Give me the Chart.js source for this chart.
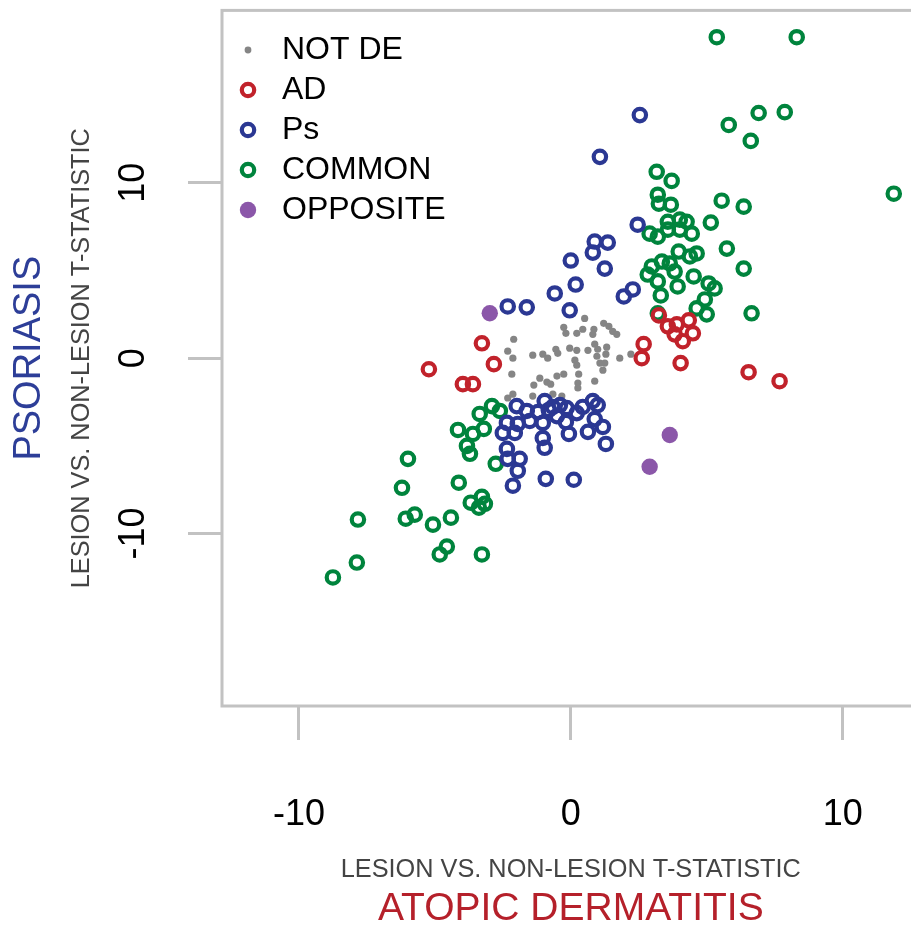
<!DOCTYPE html>
<html>
<head>
<meta charset="utf-8">
<script src="https://cdn.jsdelivr.net/npm/chart.js@4.4.0/dist/chart.umd.min.js"></script>
<style>
  html, body { margin: 0; padding: 0; overflow: hidden; background: #fff; }
  #wrap { position: relative; width: 930px; height: 931px; }
</style>
</head>
<body>
<div id="wrap"><canvas id="chart"></canvas></div>
<script>
// groups, in legend order
const groupNames = ['NOT DE', 'AD', 'Ps', 'COMMON', 'OPPOSITE'];

const notDePoints = [
  [0.51, 2.27], [-0.26, 1.76], [-0.18, 1.42], [0.22, 1.42], [0.44, 1.65], [0.85, 1.65],
  [0.81, 1.36], [1.21, 1.99], [1.40, 1.82], [1.54, 1.53], [1.69, 1.36], [-2.10, 1.08],
  [-2.32, 0.40], [-2.13, 0.00], [-1.40, 0.17], [-1.03, 0.23], [-0.85, 0.00], [-0.55, 0.51],
  [-0.48, 0.28], [-0.04, 0.57], [0.22, 0.45], [0.63, 0.45], [0.88, 0.80], [0.99, 0.51],
  [1.32, 0.63], [0.15, -0.11], [0.22, -0.40], [0.96, 0.11], [1.07, -0.28], [1.25, -0.28],
  [1.29, 0.23], [1.80, 0.00], [2.21, 0.23], [1.18, -0.68], [-2.17, -0.91], [0.29, -0.91],
  [-1.14, -1.14], [-0.88, -1.36], [-0.74, -1.48], [-0.51, -1.02], [-0.26, -0.91], [-1.36, -1.53],
  [0.26, -1.42], [0.26, -1.70], [0.88, -1.31], [-1.40, -2.16], [-0.66, -2.05], [-0.33, -2.16],
  [-2.32, -2.27], [-2.13, -2.05]
];

const adPoints = [
  [-5.22, -0.63], [-3.27, 0.85], [-2.83, -0.34], [-3.97, -1.48], [-3.60, -1.48],
  [2.68, 0.80], [2.61, 0.00], [4.04, -0.28], [3.24, 2.44], [3.57, 1.82], [3.90, 1.93],
  [4.34, 2.16], [4.49, 1.42], [3.82, 1.36], [4.12, 0.97], [6.54, -0.80], [7.68, -1.31]
];

const psPoints = [
  [2.54, 13.86], [1.07, 11.48], [2.46, 7.61], [0.88, 6.65], [1.36, 6.59], [0.81, 6.02],
  [0.00, 5.57], [1.25, 5.11], [0.18, 4.20], [-0.59, 3.69], [1.95, 3.52], [2.28, 3.92],
  [-2.32, 2.95], [-1.62, 2.90], [-0.04, 2.73],
  [-1.99, -2.73], [-1.62, -3.01], [-2.35, -3.69], [-1.95, -3.75], [-1.51, -3.58], [-1.21, -3.07],
  [-0.96, -2.44], [-0.81, -2.95], [-0.66, -2.78], [-0.40, -2.67], [-0.15, -2.84], [-1.03, -3.69],
  [-0.51, -3.30], [-0.18, -3.64], [0.22, -3.13], [0.44, -2.78], [0.81, -2.44], [0.99, -2.67],
  [0.88, -3.47], [1.18, -3.92], [0.63, -4.20], [-0.07, -4.32], [-2.50, -4.26], [-2.06, -4.26],
  [-1.03, -4.55], [-0.96, -5.11], [1.29, -4.89], [-2.35, -5.17], [-1.88, -5.74], [-2.32, -5.74],
  [-1.95, -6.42], [-2.13, -7.27], [-0.92, -6.88], [0.11, -6.93]
];

const commonPoints = [
  [5.37, 18.30], [8.31, 18.30], [7.87, 14.03], [6.91, 13.98], [5.81, 13.30], [6.62, 12.39],
  [3.16, 10.63], [3.71, 10.11], [11.88, 9.38], [3.20, 9.32], [3.24, 8.81], [3.68, 8.75],
  [5.55, 8.98], [6.36, 8.64], [5.15, 7.73], [2.90, 7.10], [3.20, 6.93], [3.57, 7.78],
  [4.01, 7.90], [4.26, 7.78], [3.57, 7.33], [4.01, 7.33], [4.45, 7.10], [5.74, 6.25],
  [3.97, 6.08], [4.38, 5.80], [4.63, 5.97], [2.98, 5.23], [3.35, 5.51], [3.64, 5.40],
  [2.83, 4.77], [3.20, 4.38], [3.82, 4.94], [3.93, 4.09], [4.52, 4.66], [5.07, 4.26],
  [5.29, 3.98], [3.31, 3.58], [4.93, 3.35], [4.63, 2.84], [5.00, 2.50], [3.20, 2.56],
  [6.36, 5.11], [6.65, 2.56],
  [-2.90, -2.73], [-2.61, -3.01], [-3.35, -3.18], [-4.15, -4.09], [-3.60, -4.32], [-3.20, -4.03],
  [-3.82, -5.00], [-3.71, -5.45], [-2.76, -6.02], [-5.99, -5.74], [-6.21, -7.39], [-4.12, -7.10],
  [-7.83, -9.20], [-6.07, -9.15], [-5.74, -8.92], [-5.07, -9.49], [-4.41, -9.09], [-3.68, -8.24],
  [-3.27, -7.90], [-3.16, -8.30], [-3.38, -8.52], [-4.56, -10.74], [-4.82, -11.19], [-3.27, -11.19],
  [-7.87, -11.65], [-8.75, -12.50]
];

const oppositePoints = [[-2.98, 2.56], [3.64, -4.38], [2.90, -6.19]];

const xTicks = [-10, 0, 10];
const yTicks = [-10, 0, 10];

const axisTitle = 'LESION VS. NON-LESION T-STATISTIC';
const xDisease = 'ATOPIC DERMATITIS';
const yDisease = 'PSORIASIS';

const frameColor = '#c2c2c2';
const colors = {
  notDe: '#858585',
  ad: '#c1222b',
  ps: '#2b3893',
  common: '#00843d',
  opposite: '#8b57a9'
};

Chart.defaults.font.family = "'Liberation Sans', Arial, sans-serif";

const toXY = pts => pts.map(p => ({x: p[0], y: p[1]}));

const ringR = 6.2, ringW = 4.2;

function ringStyle(color, order, data, name) {
  return {
    label: name, data: toXY(data), order: order,
    pointRadius: ringR, pointBorderWidth: ringW,
    borderColor: color, backgroundColor: 'rgba(0,0,0,0)',
    pointBorderColor: color, pointBackgroundColor: 'rgba(0,0,0,0)'
  };
}

const datasets = [
  {label: groupNames[0], data: toXY(notDePoints), order: 5, pointRadius: 3.6, pointBorderWidth: 0,
   backgroundColor: colors.notDe, borderColor: colors.notDe},
  ringStyle(colors.ad, 2, adPoints, groupNames[1]),
  ringStyle(colors.ps, 3, psPoints, groupNames[2]),
  ringStyle(colors.common, 4, commonPoints, groupNames[3]),
  {label: groupNames[4], data: toXY(oppositePoints), order: 1, pointRadius: 8.2, pointBorderWidth: 0,
   backgroundColor: colors.opposite, borderColor: colors.opposite}
];

// little legend markers, one per group
function makeIcon(r, fill, stroke, lw) {
  const c = document.createElement('canvas');
  c.width = 22; c.height = 22;
  const g = c.getContext('2d');
  g.beginPath();
  g.arc(11, 11, r, 0, Math.PI * 2);
  if (fill) { g.fillStyle = fill; g.fill(); }
  if (stroke) { g.strokeStyle = stroke; g.lineWidth = lw; g.stroke(); }
  return c;
}
const icons = [
  makeIcon(3.4, colors.notDe),
  makeIcon(ringR, null, colors.ad, ringW),
  makeIcon(ringR, null, colors.ps, ringW),
  makeIcon(ringR, null, colors.common, ringW),
  makeIcon(8.2, colors.opposite)
];

const framePlugin = {
  id: 'frame',
  beforeDatasetsDraw(chart) {
    const {ctx, chartArea: a} = chart;
    ctx.save();
    ctx.strokeStyle = frameColor;
    ctx.lineWidth = 3;
    ctx.strokeRect(a.left, a.top, a.right - a.left, a.bottom - a.top);
    ctx.restore();
  }
};

new Chart(document.getElementById('chart'), {
  type: 'scatter',
  data: {datasets: datasets},
  plugins: [framePlugin],
  options: {
    responsive: true,
    maintainAspectRatio: false,
    animation: false,
    events: [],
    layout: {padding: {top: 8, right: 10, left: 0, bottom: 0}},
    scales: {
      x: {
        type: 'linear', position: 'bottom', min: -12.83, max: 12.83,
        border: {display: false},
        grid: {drawOnChartArea: false, tickLength: 34, tickWidth: 3, tickColor: frameColor},
        ticks: {font: {size: 36}, color: '#000', padding: 53},
        afterBuildTicks: s => { s.ticks = xTicks.map(v => ({value: v})); },
        afterFit: s => { s.height = 182.1; s.paddingLeft = 0; s.paddingRight = 0; },
        title: {display: true, text: axisTitle, color: '#444', font: {size: 25.3},
                padding: {top: 0, bottom: 2.5}}
      },
      y: {
        type: 'linear', position: 'left', min: -19.83, max: 19.83,
        border: {display: false},
        grid: {drawOnChartArea: false, tickLength: 34, tickWidth: 3, tickColor: frameColor},
        ticks: {font: {size: 36}, color: '#000', minRotation: 90, maxRotation: 90,
                crossAlign: 'center', padding: 28},
        afterBuildTicks: s => { s.ticks = yTicks.map(v => ({value: v})); },
        afterFit: s => { s.width = 222 - 52.6; s.paddingTop = 0; s.paddingBottom = 0; },
        title: {display: true, text: axisTitle, color: '#444', font: {size: 25.3},
                padding: {top: 14.7, bottom: 0}}
      }
    },
    plugins: {
      tooltip: {enabled: false},
      title: {
        display: true, position: 'bottom', fullSize: false, text: xDisease,
        color: '#b5202a', font: {size: 39, weight: 'normal', lineHeight: 1.1},
        padding: {top: 0, bottom: 0}
      },
      subtitle: {
        display: true, position: 'left', fullSize: false, text: yDisease,
        color: '#2d3e98', font: {size: 38, weight: 'normal'}, padding: {top: 7, bottom: 0}
      },
      legend: {
        position: 'chartArea', align: 'start',
        title: {display: true, text: '', font: {size: 10}, padding: {top: 14, bottom: 0}},
        labels: {
          font: {size: 32}, color: '#000', usePointStyle: true, pointStyleWidth: 36, padding: 8,
          generateLabels: chart => chart.data.datasets.map((ds, i) => ({
            text: ds.label, pointStyle: icons[i], fillStyle: ds.backgroundColor,
            strokeStyle: ds.borderColor, lineWidth: 0, hidden: false, datasetIndex: i, fontColor: '#000'
          }))
        }
      }
    }
  }
});
</script>
</body>
</html>
